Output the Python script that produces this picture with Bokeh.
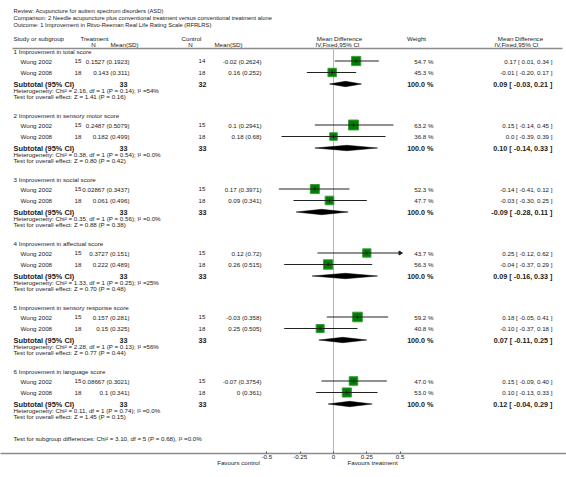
import math
from bokeh.plotting import figure
from bokeh.models import Range1d, FixedTicker, LinearAxis
from bokeh.core.properties import value
from bokeh.embed import file_html
from bokeh.resources import INLINE

# ---------------- data ----------------
title_lines = [
    "Review:  Acupuncture for autism spectrum disorders (ASD)",
    "Comparison:  2 Needle acupuncture plus conventional treatment versus conventional treatment alone",
    "Outcome:  1 Improvement in Ritvo-Reeman Real Life Rating Scale (RFRLRS)",
]
groups = [
    "1 Improvement in total score",
    "2 Improvement in sensory motor score",
    "3 Improvement in social score",
    "4 Improvement in affectual score",
    "5 Improvement in sensory response score",
    "6 Improvement in language score",
]
studies = ["Wong 2002", "Wong 2008"]
t_n = [[15, 18], [15, 18], [15, 18], [15, 18], [15, 18], [15, 18]]
t_mean = [[0.1527, 0.143], [0.2487, 0.182], [0.02867, 0.061], [0.3727, 0.222], [0.157, 0.15], [0.08667, 0.1]]
t_sd = [[0.1923, 0.311], [0.5079, 0.499], [0.3437, 0.496], [0.151, 0.489], [0.281, 0.325], [0.3021, 0.341]]
c_n = [[14, 18], [15, 18], [15, 18], [15, 18], [15, 18], [15, 18]]
c_mean = [[-0.02, 0.16], [0.1, 0.18], [0.17, 0.09], [0.12, 0.26], [-0.03, 0.25], [-0.07, 0]]
c_sd = [[0.2624, 0.252], [0.2941, 0.68], [0.3971, 0.341], [0.72, 0.515], [0.358, 0.505], [0.3754, 0.361]]
weights = [[54.7, 45.3], [63.2, 36.8], [52.3, 47.7], [43.7, 56.3], [59.2, 40.8], [47.0, 53.0]]
md = [[0.17, -0.01], [0.15, 0.0], [-0.14, -0.03], [0.25, -0.04], [0.18, -0.10], [0.15, 0.10]]
md_lo = [[0.01, -0.20], [-0.14, -0.39], [-0.41, -0.30], [-0.12, -0.37], [-0.05, -0.37], [-0.09, -0.13]]
md_hi = [[0.34, 0.17], [0.45, 0.39], [0.12, 0.25], [0.62, 0.29], [0.41, 0.18], [0.40, 0.33]]
sub_t_n = [33, 33, 33, 33, 33, 33]
sub_c_n = [32, 33, 33, 33, 33, 33]
sub_md = [0.09, 0.10, -0.09, 0.09, 0.07, 0.12]
sub_lo = [-0.03, -0.14, -0.28, -0.16, -0.11, -0.04]
sub_hi = [0.21, 0.33, 0.11, 0.33, 0.25, 0.29]
het_chi = [2.16, 0.38, 0.35, 1.33, 2.28, 0.11]
het_p = [0.14, 0.54, 0.56, 0.25, 0.13, 0.74]
het_i2 = ["54%", "0.0%", "0.0%", "25%", "56%", "0.0%"]
z_val = [1.41, 0.80, 0.88, 0.70, 0.77, 1.45]
z_p = [0.16, 0.42, 0.38, 0.48, 0.44, 0.15]
subgroup_test = "Test for subgroup differences: Chi\u00b2 = 3.10, df = 5 (P = 0.68), I\u00b2 =0.0%"
ticks = [-0.5, -0.25, 0, 0.25, 0.5]
tick_labels = ["-0.5", "-0.25", "0", "0.25", "0.5"]
favours_labels = ["Favours control", "Favours treatment"]

# ---------------- layout ----------------
FONT = "Liberation Sans"
W, H = 566, 477
X0 = 333.0      # page x of MD = 0
PPU = 133.3     # pixels per unit
XMIN, XMAX = -0.5, 0.5
AXIS_Y = 453


def X(px):
    return (px - X0) / PPU


def f2(v):
    return "0.0" if v == 0 else f"{v:.2f}"


def ci_text(m, lo, hi):
    return f"{f2(m)} [ {f2(lo)}, {f2(hi)} ]"


p = figure(width=W, height=H, output_backend="svg", toolbar_location=None,
           x_range=Range1d(X(0), X(W)), y_range=Range1d(AXIS_Y, 0),
           y_axis_location=None, min_border_left=0, min_border_right=0,
           min_border_top=0, min_border_bottom=H - AXIS_Y)
p.grid.visible = False
p.outline_line_color = None
p.background_fill_color = "white"
p.border_fill_color = "white"

ax = p.xaxis[0]
ax.ticker = FixedTicker(ticks=ticks)
ax.major_label_overrides = {t: l for t, l in zip(ticks, tick_labels)}
ax.axis_line_color = "#8c8c8c"
ax.axis_line_width = 1.5
ax.major_tick_line_color = "#555555"
ax.major_tick_in = 2
ax.major_tick_out = 0
ax.minor_tick_line_color = None
ax.major_label_text_font = FONT
ax.major_label_text_font_size = "6.2px"
ax.major_label_text_color = "#222222"
ax.major_label_standoff = 1

fav_pos = [round(X(238), 3), round(X(372), 3)]
ax2 = LinearAxis(ticker=FixedTicker(ticks=fav_pos),
                 major_label_overrides={t: l for t, l in zip(fav_pos, favours_labels)},
                 axis_line_color=None, major_tick_line_color=None, minor_tick_line_color=None,
                 major_label_text_font=FONT, major_label_text_font_size="6.2px",
                 major_label_text_color="#222222", major_label_standoff=-9)
p.add_layout(ax2, "below")


def txt(xs, ys, texts, align="left", size="6.2px", style="normal", color="#1a1a1a"):
    p.text(x=xs, y=ys, text=texts, text_align=align, text_baseline="middle",
           text_font=value(FONT), text_font_size=size, text_font_style=style,
           text_color=color)


# title lines
txt([X(13)] * 3, [10.5, 17.5, 24.5], title_lines, size="5.8px")

# headers
txt([X(13), X(80), X(181)], [38, 38, 38], ["Study or subgroup", "Treatment", "Control"])
txt([X(93), X(190)], [44, 44], ["N", "N"], align="center")
txt([X(124), X(228)], [44, 44], ["Mean(SD)", "Mean(SD)"], align="center")
txt([X(339), X(416), X(520)], [38, 38, 38], ["Mean Difference", "Weight", "Mean Difference"], align="center")
txt([X(337), X(516)], [44, 44], ["IV,Fixed,95% CI", "IV,Fixed,95% CI"], align="center")

# header separator and zero line
p.segment(x0=[X(12)], x1=[X(562)], y0=[48], y1=[48], line_color="#8c8c8c", line_width=1.5)
p.segment(x0=[0], x1=[0], y0=[48], y1=[AXIS_Y], line_color="#b4b4b4", line_width=1)

# rows
for g in range(len(groups)):
    base = 64 * g
    y_lab = 51 + base
    ys = [60.5 + base, 72 + base]
    y_sub = 83.5 + base
    txt([X(13)], [y_lab], [groups[g]])
    txt([X(20)] * 2, ys, studies)
    txt([X(81)] * 2, ys, [str(n) for n in t_n[g]], align="right")
    txt([X(129)] * 2, ys, [f"{m:g} ({s:g})" for m, s in zip(t_mean[g], t_sd[g])], align="right")
    txt([X(205)] * 2, ys, [str(n) for n in c_n[g]], align="right")
    txt([X(261)] * 2, ys, [f"{m:g} ({s:g})" for m, s in zip(c_mean[g], c_sd[g])], align="right")
    txt([X(433)] * 2, ys, [f"{w:.1f} %" for w in weights[g]], align="right")
    txt([X(552)] * 2, ys, [ci_text(m, lo, hi) for m, lo, hi in zip(md[g], md_lo[g], md_hi[g])], align="right")

    # squares, CI lines and centre ticks
    sizes = [12.5 * math.sqrt(w / 100.0) for w in weights[g]]
    p.scatter(x=md[g], y=ys, size=sizes, marker="square", fill_color="#008000",
              line_color="#3c9c3c", line_width=1)
    lo_c = [max(v, XMIN) for v in md_lo[g]]
    hi_c = [min(v, XMAX) for v in md_hi[g]]
    p.segment(x0=lo_c, x1=hi_c, y0=ys, y1=ys, line_color="#222222", line_width=1)
    p.segment(x0=md[g], x1=md[g], y0=[y - 1.5 for y in ys], y1=[y + 1.5 for y in ys],
              line_color="#111111", line_width=1)
    for v, y in zip(md_hi[g], ys):
        if v > XMAX:
            p.scatter(x=[XMAX], y=[y], marker="triangle", angle=-math.pi / 2, size=4,
                      fill_color="#222222", line_color="#222222")
    for v, y in zip(md_lo[g], ys):
        if v < XMIN:
            p.scatter(x=[XMIN], y=[y], marker="triangle", angle=math.pi / 2, size=4,
                      fill_color="#222222", line_color="#222222")

    # subtotal
    txt([X(13)], [y_sub], ["Subtotal (95% CI)"], size="7.4px", style="bold")
    txt([X(127), X(206)], [y_sub, y_sub], [str(sub_t_n[g]), str(sub_c_n[g])], align="right",
        size="7.2px", style="bold")
    txt([X(433)], [y_sub], ["100.0 %"], align="right", size="7.2px", style="bold")
    txt([X(552)], [y_sub], [ci_text(sub_md[g], sub_lo[g], sub_hi[g])], align="right",
        size="7.2px", style="bold")
    p.patches(xs=[[sub_lo[g], sub_md[g], sub_hi[g], sub_md[g]]],
              ys=[[y_sub, y_sub - 2.7, y_sub, y_sub + 2.7]],
              fill_color="black", line_color="black", line_width=0.5)
    txt([X(13)], [89.5 + base],
        [f"Heterogeneity: Chi\u00b2 = {het_chi[g]:.2f}, df = 1 (P = {het_p[g]:.2f}); I\u00b2 ={het_i2[g]}"],
        size="6.2px")
    txt([X(13)], [95.5 + base],
        [f"Test for overall effect: Z = {z_val[g]:.2f} (P = {z_p[g]:.2f})"], size="6.2px")

txt([X(13)], [438], [subgroup_test], size="6.2px")

open("out.html", "w").write(file_html(p, INLINE))
